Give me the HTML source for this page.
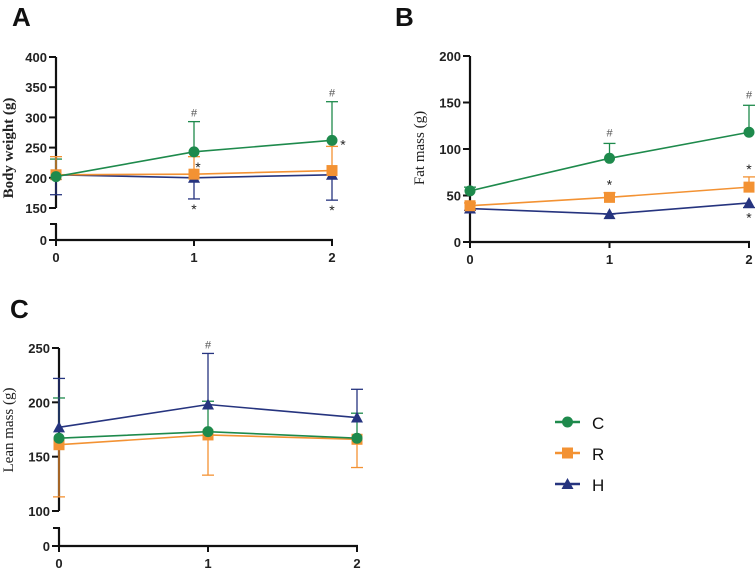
<!DOCTYPE html>
<html><head><meta charset="utf-8">
<style>
html,body{margin:0;padding:0;background:#fff;}
svg{display:block;}
.tick{font-family:"Liberation Sans",Arial,sans-serif;font-weight:bold;font-size:13px;fill:#222;}
.plab{font-family:"Liberation Sans",Arial,sans-serif;font-weight:bold;font-size:26px;fill:#111;}
.leg{font-family:"Liberation Sans",Arial,sans-serif;font-size:17px;fill:#111;}
</style></head>
<body>
<svg id="chart" width="755" height="573" viewBox="0 0 755 573" xmlns="http://www.w3.org/2000/svg">
<text class="plab" x="12" y="26">A</text>
<text class="plab" x="395" y="26">B</text>
<text class="plab" x="10" y="318">C</text>
<g id="legend"></g>
</svg>
<script>
const categories = [0, 1, 2];
const seriesNames = ['C', 'R', 'H'];
const colors = {C:'#1e8a4c', R:'#f39233', H:'#26347f'};

// Panel A: body weight
const bodyC = [202, 243, 262];
const bodyR = [205, 206, 212];
const bodyH = [205, 200, 205];
const bodyHiC = [231, 293, 326];
const bodyHiR = [235, 235, 252];
const bodyLoH = [172, 165, 163];
const bodyTicks = [150, 200, 250, 300, 350, 400];

// Panel B: fat mass
const fatC = [55, 90, 118];
const fatR = [39, 48, 59];
const fatH = [36, 30, 42];
const fatHiC = [59, 106, 147];
const fatHiR = [42, 53, 70];
const fatLoH = [34, 30, 37];
const fatTicks = [0, 50, 100, 150, 200];

// Panel C: lean mass
const leanC = [167, 173, 167];
const leanR = [161, 170, 166];
const leanH = [177, 198, 186];
const leanHiC = [204, 201, 190];
const leanHiH = [222, 245, 212];
const leanLoR = [113, 133, 140];
const leanTicks = [100, 150, 200, 250];

const NS = 'http://www.w3.org/2000/svg';
const svg = document.getElementById('chart');
function mk(tag, attrs, parent){
  const e = document.createElementNS(NS, tag);
  for (const k in attrs) e.setAttribute(k, attrs[k]);
  (parent || svg).appendChild(e);
  return e;
}

function panel(cfg){
  const g = mk('g', {});
  
  
  const xs = v => cfg.x0 + (cfg.x2 - cfg.x0) * v / 2;
  const ys = v => cfg.yHi - (v - cfg.vLo) / (cfg.vHi - cfg.vLo) * (cfg.yHi - cfg.yLo);
  // y axis main
  const ax = mk('line', {x1:cfg.x0, x2:cfg.x0, y1:ys(cfg.vHi), y2:cfg.broken ? ys(cfg.vLo) : cfg.zeroY, stroke:'#111','stroke-width':2.2}, g);
  
  
  cfg.ticks.forEach(t => {
    const y = ys(t);
    mk('line', {x1:cfg.x0-7, x2:cfg.x0, y1:y, y2:y, stroke:'#111','stroke-width':2}, g);
    const tx = mk('text', {x:cfg.x0-9, y:y+5, 'text-anchor':'end', class:'tick'}, g);
    tx.textContent = t;
    
    
  });
  if (cfg.broken){
    mk('line', {x1:cfg.x0, x2:cfg.x0, y1:cfg.breakTop, y2:cfg.zeroY, stroke:'#111','stroke-width':2.2}, g);
    mk('line', {x1:cfg.x0-6, x2:cfg.x0+1, y1:cfg.breakTop, y2:cfg.breakTop, stroke:'#111','stroke-width':2}, g);
    mk('line', {x1:cfg.x0-7, x2:cfg.x0, y1:cfg.zeroY, y2:cfg.zeroY, stroke:'#111','stroke-width':2}, g);
    const z = mk('text', {x:cfg.x0-9, y:cfg.zeroY+5, 'text-anchor':'end', class:'tick'}, g);
    z.textContent = '0';
    
    
  }
  // x axis
  const xa = mk('line', {x1:cfg.x0-1, x2:cfg.x2+1, y1:cfg.zeroY, y2:cfg.zeroY, stroke:'#111','stroke-width':2.2}, g);
  
  
  categories.forEach(c => {
    const x = xs(c);
    mk('line', {x1:x, x2:x, y1:cfg.zeroY, y2:cfg.zeroY+6, stroke:'#111','stroke-width':2}, g);
    const t = mk('text', {x:x, y:cfg.zeroY+22, 'text-anchor':'middle', class:'tick'}, g);
    t.textContent = c;
    
    
  });
  // y title
  const yt = mk('text', {x:0, y:0, transform:`translate(${cfg.titleX},${cfg.titleY}) rotate(-90)`, 'text-anchor':'middle',
    'font-family':'"Liberation Serif",serif', 'font-size':'15px', 'font-weight':cfg.titleBold?'bold':'normal', fill:'#222'}, g);
  yt.textContent = cfg.title;
  
  
  // error bars
  cfg.errs.forEach(e => {
    categories.forEach((c, i) => {
      const x = xs(c), y1 = ys(e.mean[i]), y2 = ys(e.vals[i]);
      const eb = mk('line', {x1:x, x2:x, y1:y1, y2:y2, stroke:colors[e.s], 'stroke-width':1.3}, g);
      
      
      mk('line', {x1:x-6, x2:x+6, y1:y2, y2:y2, stroke:colors[e.s], 'stroke-width':1.3}, g);
    });
  });
  // series
  cfg.order.forEach(s => {
    const vals = cfg.data[s];
    const pts = categories.map((c, i) => xs(c) + ',' + ys(vals[i])).join(' ');
    const pl = mk('polyline', {points:pts, fill:'none', stroke:colors[s], 'stroke-width':1.6}, g);
    
    
    categories.forEach((c, i) => {
      const m = marker(g, s, xs(c), ys(vals[i]));
      
      
    });
  });
  // annotations
  cfg.notes.forEach(n => {
    const t = mk('text', {x:xs(n.c)+n.dx, y:ys(n.v)+n.dy, 'text-anchor':'middle',
      'font-family':'"Liberation Sans",sans-serif', 'font-size':n.t==='#'?'11px':'14px', fill:n.t==='#'?'#555':'#222'}, g);
    t.textContent = n.t;
    
    
  });
}

function marker(g, s, x, y){
  if (s === 'C') return mk('circle', {cx:x, cy:y, r:5.5, fill:colors.C}, g);
  if (s === 'R') return mk('rect', {x:x-5.5, y:y-5.5, width:11, height:11, fill:colors.R}, g);
  return mk('polygon', {points:`${x},${y-6} ${x-6},${y+5} ${x+6},${y+5}`, fill:colors.H}, g);
}

panel({name:'panel-a-body-weight', x0:56, x2:332, vLo:150, vHi:400, yLo:57, yHi:208, broken:true, breakTop:224, zeroY:240,
  ticks:bodyTicks, title:'Body weight (g)', titleBold:true, titleX:13, titleY:148,
  data:{C:bodyC, R:bodyR, H:bodyH}, order:['H','R','C'],
  errs:[{s:'C', mean:bodyC, vals:bodyHiC},{s:'R', mean:bodyR, vals:bodyHiR},{s:'H', mean:bodyH, vals:bodyLoH}],
  notes:[{c:1,v:bodyHiC[1],dx:0,dy:-5,t:'#'},{c:2,v:bodyHiC[2],dx:0,dy:-5,t:'#'},
         {c:1,v:bodyC[1],dx:4,dy:20,t:'*'},{c:2,v:bodyC[2],dx:11,dy:9,t:'*'},
         {c:1,v:bodyLoH[1],dx:0,dy:15,t:'*'},{c:2,v:bodyLoH[2],dx:0,dy:15,t:'*'}]});

panel({name:'panel-b-fat-mass', x0:470, x2:749, vLo:0, vHi:200, yLo:56, yHi:242, broken:false, zeroY:242,
  ticks:fatTicks, title:'Fat mass (g)', titleBold:false, titleX:424, titleY:148,
  data:{C:fatC, R:fatR, H:fatH}, order:['H','R','C'],
  errs:[{s:'C', mean:fatC, vals:fatHiC},{s:'R', mean:fatR, vals:fatHiR},{s:'H', mean:fatH, vals:fatLoH}],
  notes:[{c:1,v:fatHiC[1],dx:0,dy:-7,t:'#'},{c:2,v:fatHiC[2],dx:0,dy:-7,t:'#'},
         {c:1,v:fatHiR[1],dx:0,dy:-3,t:'*'},{c:2,v:fatHiR[2],dx:0,dy:-3,t:'*'},
         {c:2,v:fatLoH[2],dx:0,dy:15,t:'*'}]});

panel({name:'panel-c-lean-mass', x0:59, x2:357, vLo:100, vHi:250, yLo:348, yHi:511, broken:true, breakTop:528, zeroY:546,
  ticks:leanTicks, title:'Lean mass (g)', titleBold:false, titleX:13, titleY:430,
  data:{C:leanC, R:leanR, H:leanH}, order:['R','C','H'],
  errs:[{s:'R', mean:leanR, vals:leanLoR},{s:'C', mean:leanC, vals:leanHiC},{s:'H', mean:leanH, vals:leanHiH}],
  notes:[{c:1,v:leanHiH[1],dx:0,dy:-5,t:'#'}]});

// legend
const leg = document.getElementById('legend');
const legY = [422, 453, 484];
seriesNames.forEach((s, i) => {
  const y = legY[i];
  const item = mk('g', {}, leg);
  
  
  mk('line', {x1:555, x2:580, y1:y, y2:y, stroke:colors[s], 'stroke-width':2.5}, item);
  marker(item, s, 567.5, y);
  const t = mk('text', {x:592, y:y+7, class:'leg'}, item);
  t.textContent = s;
});
</script>
</body></html>
